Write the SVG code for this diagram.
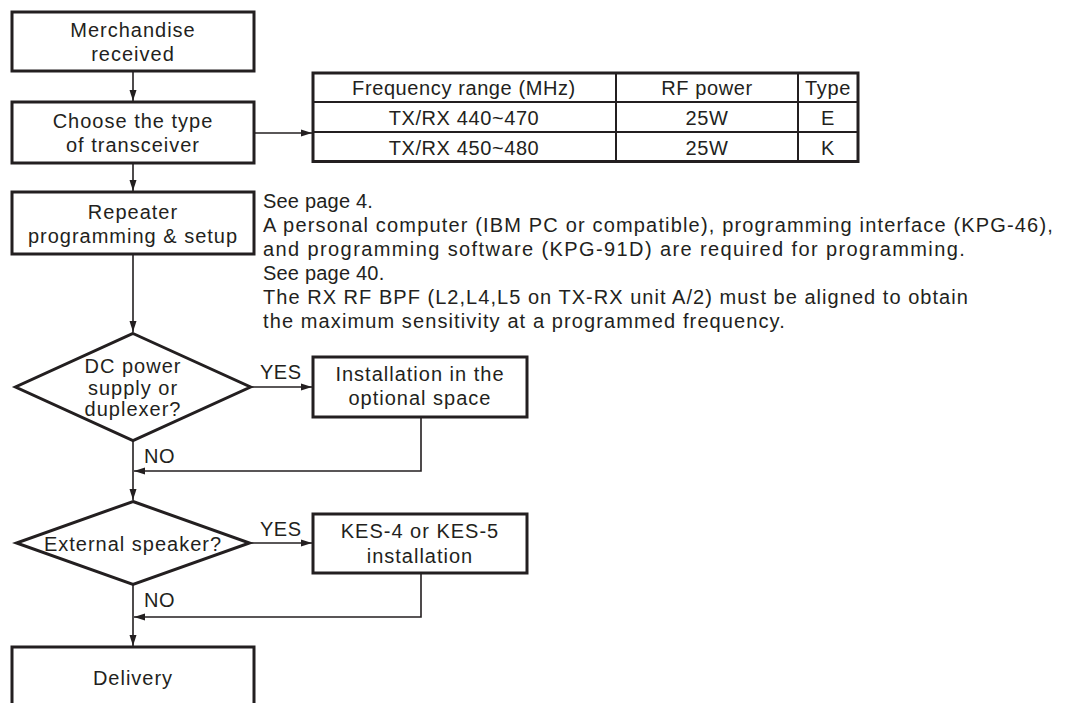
<svg xmlns="http://www.w3.org/2000/svg" width="1065" height="703" viewBox="0 0 1065 703">
  <style>
    .box { fill: #ffffff; stroke: #231f20; stroke-width: 3; }
    .dia { fill: #ffffff; stroke: #231f20; stroke-width: 3; stroke-linejoin: miter; }
    .conn { fill: none; stroke: #231f20; stroke-width: 1.6; }
    .grid { fill: none; stroke: #231f20; stroke-width: 2; }
    text { font-family: "Liberation Sans", Arial, Helvetica, sans-serif; fill: #231f20; }
    .t { font-size: 20px; letter-spacing: 1px; text-anchor: middle; }
    .tb { font-size: 20px; letter-spacing: 0.6px; text-anchor: middle; }
    .p { font-size: 20px; letter-spacing: 0.2px; }
    .lbl { font-size: 20px; letter-spacing: 0.5px; }
  </style>
  <defs>
    <marker id="arr" markerUnits="userSpaceOnUse" markerWidth="12" markerHeight="8" refX="11" refY="4" orient="auto">
      <path d="M0,0.5 L11,4 L0,7.5 Z" fill="#231f20"/>
    </marker>
  </defs>
  <rect width="1065" height="703" fill="#ffffff"/>

  <g id="connectors">
    <path class="conn" d="M133,71 V101" marker-end="url(#arr)"/>
    <path class="conn" d="M254,133 H312" marker-end="url(#arr)"/>
    <path class="conn" d="M133,163 V191" marker-end="url(#arr)"/>
    <path class="conn" d="M133,254 V332" marker-end="url(#arr)"/>
    <path class="conn" d="M251,387 H312" marker-end="url(#arr)"/>
    <path class="conn" d="M421,417 V471 H134" marker-end="url(#arr)"/>
    <path class="conn" d="M133,440 V500" marker-end="url(#arr)"/>
    <path class="conn" d="M250,543 H312" marker-end="url(#arr)"/>
    <path class="conn" d="M421,573 V617 H134" marker-end="url(#arr)"/>
    <path class="conn" d="M133,584 V646" marker-end="url(#arr)"/>
    <text class="lbl" x="260" y="379">YES</text>
    <text class="lbl" x="144" y="463">NO</text>
    <text class="lbl" x="260" y="536">YES</text>
    <text class="lbl" x="144" y="607">NO</text>
  </g>

  <g id="merchandise">
    <rect class="box" x="12" y="12" width="242" height="59"/>
    <text class="t" x="133" y="37">Merchandise</text>
    <text class="t" x="133" y="61">received</text>
  </g>

  <g id="choose">
    <rect class="box" x="12" y="102" width="242" height="61"/>
    <text class="t" x="133" y="128">Choose the type</text>
    <text class="t" x="133" y="152">of transceiver</text>
  </g>

  <g id="table">
    <rect class="box" x="313" y="73" width="545" height="88.5"/>
    <path class="grid" d="M313,102 H858 M313,132 H858 M616,73 V161.5 M798,73 V161.5"/>
    <text class="tb" x="464" y="95">Frequency range (MHz)</text>
    <text class="tb" x="707" y="95">RF power</text>
    <text class="tb" x="828" y="95">Type</text>
    <text class="tb" x="464" y="125">TX/RX 440~470</text>
    <text class="tb" x="707" y="125">25W</text>
    <text class="tb" x="828" y="125">E</text>
    <text class="tb" x="464" y="155">TX/RX 450~480</text>
    <text class="tb" x="707" y="155">25W</text>
    <text class="tb" x="828" y="155">K</text>
  </g>

  <g id="repeater">
    <rect class="box" x="12" y="192" width="242" height="62"/>
    <text class="t" x="133" y="219">Repeater</text>
    <text class="t" x="133" y="243">programming &amp; setup</text>
  </g>

  <g id="notes">
    <text class="p" x="263" y="208">See page 4.</text>
    <text class="p" x="263" y="232" textLength="790" lengthAdjust="spacing">A personal computer (IBM PC or compatible), programming interface (KPG-46),</text>
    <text class="p" x="263" y="256" textLength="702" lengthAdjust="spacing">and programming software (KPG-91D) are required for programming.</text>
    <text class="p" x="263" y="280">See page 40.</text>
    <text class="p" x="263" y="304" textLength="705" lengthAdjust="spacing">The RX RF BPF (L2,L4,L5 on TX-RX unit A/2) must be aligned to obtain</text>
    <text class="p" x="263" y="328" textLength="522" lengthAdjust="spacing">the maximum sensitivity at a programmed frequency.</text>
  </g>

  <g id="dc-power">
    <polygon class="dia" points="133,333.5 250.5,387 133,440.5 15.5,387"/>
    <text class="t" x="133" y="373">DC power</text>
    <text class="t" x="133" y="395">supply or</text>
    <text class="t" x="133" y="416">duplexer?</text>
  </g>

  <g id="installation">
    <rect class="box" x="313" y="357" width="214" height="60"/>
    <text class="t" x="420" y="381">Installation in the</text>
    <text class="t" x="420" y="405">optional space</text>
  </g>

  <g id="ext-speaker">
    <polygon class="dia" points="133,501.5 249.5,543 133,584.5 16.5,543"/>
    <text class="t" x="133" y="551">External speaker?</text>
  </g>

  <g id="kes">
    <rect class="box" x="313" y="514" width="214" height="59"/>
    <text class="t" x="420" y="538">KES-4 or KES-5</text>
    <text class="t" x="420" y="563">installation</text>
  </g>

  <g id="delivery">
    <rect class="box" x="12" y="647" width="242" height="80"/>
    <text class="t" x="133" y="685">Delivery</text>
  </g>
</svg>
